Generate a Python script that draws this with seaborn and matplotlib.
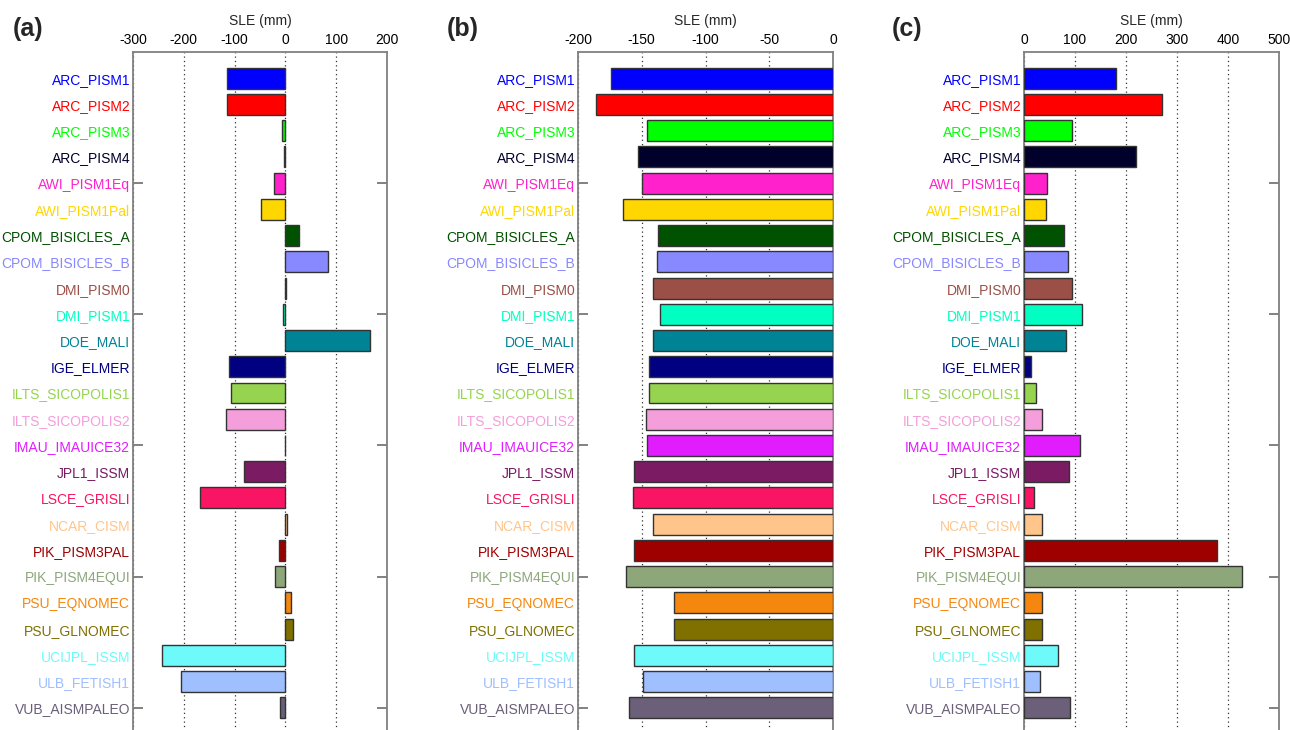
import matplotlib
matplotlib.use("Agg")
import matplotlib.pyplot as plt
import seaborn as sns
import pandas as pd
from matplotlib.ticker import FixedLocator

models = ["ARC_PISM1", "ARC_PISM2", "ARC_PISM3", "ARC_PISM4", "AWI_PISM1Eq",
          "AWI_PISM1Pal", "CPOM_BISICLES_A", "CPOM_BISICLES_B", "DMI_PISM0",
          "DMI_PISM1", "DOE_MALI", "IGE_ELMER", "ILTS_SICOPOLIS1",
          "ILTS_SICOPOLIS2", "IMAU_IMAUICE32", "JPL1_ISSM", "LSCE_GRISLI",
          "NCAR_CISM", "PIK_PISM3PAL", "PIK_PISM4EQUI", "PSU_EQNOMEC",
          "PSU_GLNOMEC", "UCIJPL_ISSM", "ULB_FETISH1", "VUB_AISMPALEO"]

colors = ["#0000FF", "#FF0000", "#00FF00", "#00002A", "#FF22CC",
          "#FFD700", "#005200", "#8888FF", "#9C4F47",
          "#00FFC0", "#008394", "#000080", "#96D450",
          "#F49FDB", "#E11CFF", "#7A1B63", "#F91464",
          "#FFC58A", "#9E0000", "#8DA77B", "#F5870E",
          "#7F7000", "#6EFAFA", "#9FBFFF", "#6C5F79"]

sle_a = [-114, -115, -6, -2, -22, -48, 27, 83, 1, -4, 167, -112, -108,
         -116, -1, -81, -168, 4, -12, -20, 12, 15, -243, -205, -10]
sle_b = [-174, -186, -146, -153, -150, -165, -137, -138, -141, -136, -141,
         -144, -144, -147, -146, -156, -157, -141, -156, -162, -125, -125,
         -156, -149, -160]
sle_c = [180, 270, 95, 219, 46, 44, 79, 86, 94, 113, 83, 14, 23, 36, 109,
         89, 19, 36, 378, 427, 35, 35, 66, 31, 90]

panel_labels = ["(a)", "(b)", "(c)"]
xlims = [(-300, 200), (-200, 0), (0, 500)]
xticks = [[-300, -200, -100, 0, 100, 200],
          [-200, -150, -100, -50, 0],
          [0, 100, 200, 300, 400, 500]]
marked_rows = [4, 9, 14, 19, 24]

sns.set_style("white")
plt.rcParams["font.family"] = ["Liberation Sans", "DejaVu Sans"]
plt.rcParams["font.size"] = 10

fig = plt.figure(figsize=(12.9, 7.3), dpi=100)
W, H = 1290.0, 730.0
lefts = [133, 578, 1024]
widths = [254, 255, 255]
label_x = [13, 447, 892]
top_px = 52
bot_px = 734

palette = dict(zip(models, colors))
datasets = [sle_a, sle_b, sle_c]

for i, vals in enumerate(datasets):
    ax = fig.add_axes([lefts[i] / W, 1 - bot_px / H, widths[i] / W, (bot_px - top_px) / H])
    df = pd.DataFrame({"model": models, "sle": vals})
    sns.barplot(data=df, x="sle", y="model", hue="model", palette=palette,
                order=models, hue_order=models, dodge=False, legend=False,
                orient="h", width=0.8, edgecolor="#333333", linewidth=1.0,
                saturation=1, ax=ax, zorder=3)
    ax.set_xlim(*xlims[i])
    ax.set_ylim(len(models), -1)
    ax.set_xticks(xticks[i])
    ax.set_xticklabels([str(t) for t in xticks[i]])
    ax.xaxis.tick_top()
    ax.xaxis.set_label_position("top")
    ax.set_xlabel("SLE (mm)", labelpad=6)
    ax.set_ylabel("")
    ax.tick_params(axis="x", length=0, pad=3.7, labelsize=10, colors="black")
    ax.set_yticks(range(len(models)))
    ax.set_yticklabels(models)
    ax.tick_params(axis="y", which="major", length=0, pad=2, labelsize=10)
    for lab, c in zip(ax.get_yticklabels(), colors):
        lab.set_color(c)
    ax.yaxis.remove_overlapping_locs = False
    ax.yaxis.set_minor_locator(FixedLocator(marked_rows))
    ax.tick_params(axis="y", which="minor", direction="in", length=7, width=1.3,
                   color="#777777", left=True, right=True)
    ax.grid(axis="x", linestyle=(0, (1, 2.5)), color="#333333", linewidth=0.9, zorder=0)
    ax.set_axisbelow(True)
    for s in ax.spines.values():
        s.set_color("#808080")
        s.set_linewidth(1.3)
    ax.spines["bottom"].set_visible(False)
    fig.text(label_x[i] / W, 1 - 29 / H, panel_labels[i], fontsize=18,
             fontweight="bold", ha="left", va="center")

fig.savefig("out.png", dpi=100)
